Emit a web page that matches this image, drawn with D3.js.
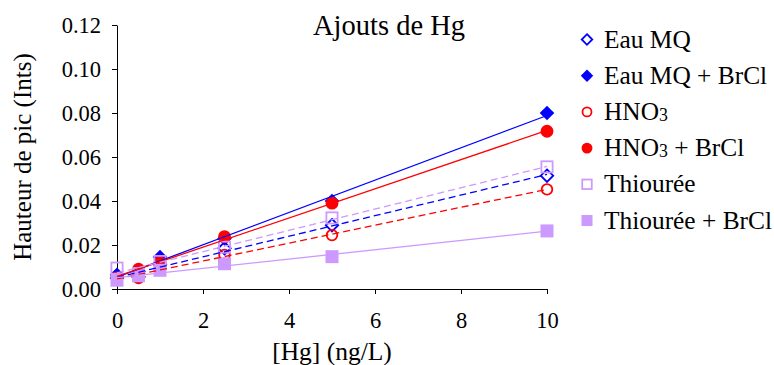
<!DOCTYPE html>
<html>
<head>
<meta charset="utf-8">
<script src="https://cdn.jsdelivr.net/npm/d3@7"></script>
<style>
  body { margin: 0; background: #fff; }
</style>
</head>
<body>
<div id="mainDiv"></div>
<script>
// Values
let concentrations = [0, 0.5, 1, 2.5, 5, 10];
let eauMQ = [0.005, 0.0055, 0.011, 0.0185, 0.029, 0.0515];
let eauMQBrCl = [0.0065, 0.008, 0.0145, 0.023, 0.040, 0.080];
let hno3 = [0.005, 0.005, 0.0095, 0.0155, 0.0245, 0.0453];
let hno3BrCl = [0.005, 0.009, 0.012, 0.0238, 0.039, 0.0717];
let thiouree = [0.0095, 0.007, 0.0125, 0.019, 0.0323, 0.0555];
let thioureeBrCl = [0.004, 0.006, 0.0085, 0.0115, 0.0147, 0.0264];
let xTicks = [0, 2, 4, 6, 8, 10];
let yTicks = [0, 0.02, 0.04, 0.06, 0.08, 0.10, 0.12];

let series = [
  { name: "Eau MQ", values: eauMQ, color: "#0000ff", shape: "diamond", filled: false },
  { name: "Eau MQ + BrCl", values: eauMQBrCl, color: "#0000ff", shape: "diamond", filled: true },
  { name: "HNO|3", values: hno3, color: "#ff0000", shape: "circle", filled: false },
  { name: "HNO|3| + BrCl", values: hno3BrCl, color: "#ff0000", shape: "circle", filled: true },
  { name: "Thiourée", values: thiouree, color: "#cc99ff", shape: "square", filled: false },
  { name: "Thiourée + BrCl", values: thioureeBrCl, color: "#cc99ff", shape: "square", filled: true }
];

const serif = "'Liberation Serif'";
let chartSize = { width: 774, height: 365, margin: { left: 117, right: 227, top: 25, bottom: 76 } };

function linearFit(xs, ys) {
  let mx = d3.mean(xs), my = d3.mean(ys);
  let sxy = d3.sum(xs, (x, i) => (x - mx) * (ys[i] - my));
  let sxx = d3.sum(xs, x => (x - mx) * (x - mx));
  let slope = sxy / sxx;
  return { slope: slope, intercept: my - slope * mx };
}

function drawMarker(g, s, cx, cy, scale) {
  let node;
  if (s.shape == "circle") {
    let r = (s.filled ? 6.4 : 5.3) * scale;
    node = g.append("circle").attr("cx", cx).attr("cy", cy).attr("r", r);
  } else if (s.shape == "square") {
    let h = (s.filled ? 6.5 : 5.6) * scale;
    node = g.append("rect").attr("x", cx - h).attr("y", cy - h)
      .attr("width", 2 * h).attr("height", 2 * h);
  } else {
    let h = (s.filled ? 7.3 : 6.2) * scale;
    node = g.append("path")
      .attr("d", `M${cx},${cy - h}L${cx + h},${cy}L${cx},${cy + h}L${cx - h},${cy}Z`);
  }
  if (s.filled) {
    node.attr("fill", s.color).attr("stroke", "none");
  } else {
    node.attr("fill", "none").attr("stroke", s.color).attr("stroke-width", 1.8);
  }
}

function addLabel(text, str) {
  let parts = str.split("|");
  parts.forEach((p, i) => {
    if (p === "") return;
    if (i % 2 == 1) {
      text.append("tspan").attr("font-size", "0.7em").attr("dy", "0.06em").text(p);
    } else {
      let t = text.append("tspan").text(p);
      if (i > 0) t.attr("dy", "-0.042em");
    }
  });
}

function createChart() {
  let m = chartSize.margin;

  let x = d3.scaleLinear()
    .domain([0, 10])
    .range([m.left, chartSize.width - m.right]);

  let y = d3.scaleLinear()
    .domain([0, 0.12])
    .range([chartSize.height - m.bottom, m.top]);

  const svg = d3.select("#mainDiv")
    .append("svg")
    .attr("width", chartSize.width)
    .attr("height", chartSize.height)
    .attr("viewBox", [0, 0, chartSize.width, chartSize.height]);

  // axes
  let xAxis = g => g
    .attr("transform", `translate(0,${chartSize.height - m.bottom})`)
    .call(d3.axisBottom(x).tickValues(xTicks).tickFormat(d3.format("d"))
      .tickSize(5).tickPadding(18).tickSizeOuter(0))
    .call(g => g.selectAll("text").attr("font-size", 22.5).attr("fill", "#000")
      .style("font-family", serif));

  let yAxis = g => g
    .attr("transform", `translate(${m.left},0)`)
    .call(d3.axisLeft(y).tickValues(yTicks).tickFormat(d3.format(".2f"))
      .tickSize(5).tickPadding(11).tickSizeOuter(0))
    .call(g => g.selectAll("text").attr("font-size", 22.5).attr("fill", "#000")
      .style("font-family", serif));

  svg.append("g").call(xAxis);
  svg.append("g").call(yAxis);
  svg.selectAll(".domain, .tick line").attr("stroke", "#000").attr("stroke-width", 1);

  // markers
  let marks = svg.append("g");
  series.forEach(s => {
    s.values.forEach((v, i) => drawMarker(marks, s, x(concentrations[i]), y(v), 1));
  });

  // trendlines
  let lines = svg.append("g");
  series.forEach(s => {
    let fit = linearFit(concentrations, s.values);
    let pts = [0, 10].map(c => [x(c), y(fit.intercept + fit.slope * c)]);
    lines.append("path")
      .attr("d", d3.line()(pts))
      .attr("stroke", s.color)
      .attr("stroke-width", 1.3)
      .attr("fill", "none")
      .attr("stroke-dasharray", s.filled ? null : "7,4");
  });

  // titles
  svg.append("text")
    .attr("x", 389).attr("y", 35)
    .attr("text-anchor", "middle")
    .attr("font-size", 28.5)
    .style("font-family", serif)
    .text("Ajouts de Hg");

  svg.append("text")
    .attr("x", (m.left + chartSize.width - m.right) / 2)
    .attr("y", 360)
    .attr("text-anchor", "middle")
    .attr("font-size", 25.5)
    .style("font-family", serif)
    .text("[Hg] (ng/L)");

  svg.append("text")
    .attr("transform", `translate(31,${(m.top + chartSize.height - m.bottom) / 2}) rotate(-90)`)
    .attr("text-anchor", "middle")
    .attr("font-size", 25)
    .style("font-family", serif)
    .text("Hauteur de pic (Ints)");

  // legend
  let legend = svg.append("g");
  series.forEach((s, i) => {
    let cy = 39.5 + i * 36.2;
    drawMarker(legend, s, 587, cy, 0.85);
    let t = legend.append("text")
      .attr("x", 604).attr("y", cy + 8)
      .attr("font-size", 25.4)
      .style("font-family", serif);
    addLabel(t, s.name);
  });

  return svg.node();
}

createChart();
</script>
</body>
</html>
